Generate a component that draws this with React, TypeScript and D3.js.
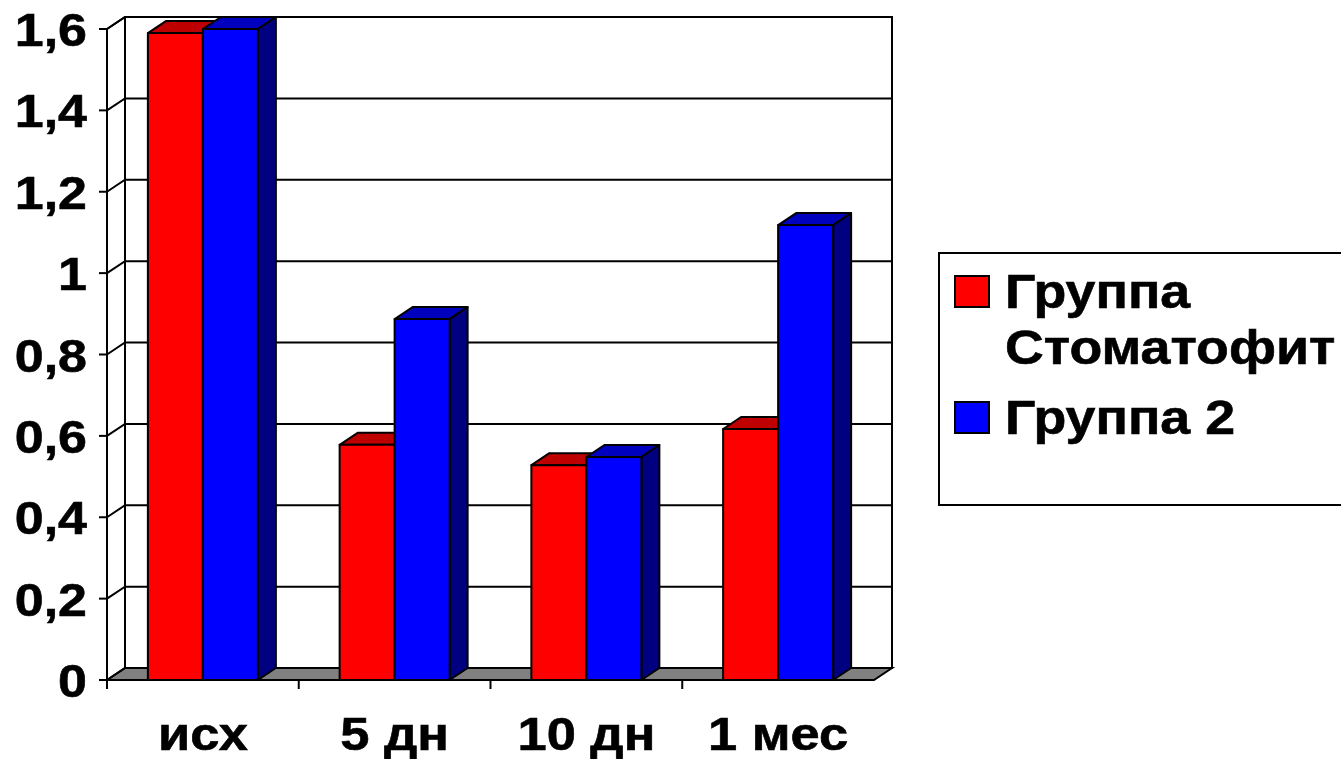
import React from "react";
import * as d3 from "d3";

const categories = ["исх", "5 дн", "10 дн", "1 мес"];
const groupOne = [1.59, 0.578, 0.528, 0.617];
const groupTwo = [1.6, 0.887, 0.548, 1.118];
const yTicks = [0, 0.2, 0.4, 0.6, 0.8, 1, 1.2, 1.4, 1.6];
const seriesColors = [
  { front: "#ff0000", top: "#bf0000", side: "#800000" },
  { front: "#0000ff", top: "#0000bf", side: "#000080" },
];

const X0 = 107, X1 = 874, Y0 = 680, Y1 = 29, DX = 18, DY = -12;
const x = d3.scaleBand<string>().domain(categories).range([X0, X1]);
const y = d3.scaleLinear().domain([0, 1.6]).range([Y0, Y1]);
const fmt = (v: number) => String(v).replace(".", ",");
const poly = (pts: [number, number][]) => {
  const p = d3.path();
  pts.forEach(([a, b], i) => (i ? p.lineTo(a, b) : p.moveTo(a, b)));
  p.closePath();
  return p.toString();
};
const SW = 2;

function Label({ px, py, anchor, size, sx, children }: any) {
  return (
    <text
      transform={`translate(${px},${py}) scale(${sx},1)`}
      textAnchor={anchor}
      fontFamily="'Liberation Sans', Arial, sans-serif"
      fontWeight="bold"
      fontSize={size}
      fill="#000"
      stroke="#000"
      strokeWidth={0.6}
    >
      {children}
    </text>
  );
}

export default function App() {
  const groupW = 110;
  const barW = groupW / 2;
  const pad = (x.bandwidth() - groupW) / 2;
  return (
    <svg
      width={1341}
      height={759}
      style={{ position: "fixed", left: 0, top: 0, background: "#fff" }}
    >
      <path
        d={poly([[X0, Y0], [X0 + DX, Y0 + DY], [X1 + DX, Y0 + DY], [X1, Y0]])}
        fill="#808080"
        stroke="#000"
        strokeWidth={SW}
      />
      <path
        d={poly([[X0 + DX, Y1 + DY], [X1 + DX, Y1 + DY], [X1 + DX, Y0 + DY], [X0 + DX, Y0 + DY]])}
        fill="#fff"
        stroke="#000"
        strokeWidth={SW}
      />
      {yTicks.map((t) => (
        <path
          key={t}
          d={`M${X0},${y(t)}L${X0 + DX},${y(t) + DY}L${X1 + DX},${y(t) + DY}`}
          fill="none"
          stroke="#000"
          strokeWidth={SW}
        />
      ))}
      <line x1={X0} x2={X0} y1={Y1} y2={Y0 + 9} stroke="#000" strokeWidth={SW} />
      <line x1={X0} x2={X0 + DX} y1={Y1} y2={Y1 + DY} stroke="#000" strokeWidth={SW} />
      <line x1={X0} x2={X1} y1={Y0} y2={Y0} stroke="#000" strokeWidth={SW} />
      {yTicks.map((t) => (
        <line key={t} x1={X0 - 8} x2={X0} y1={y(t)} y2={y(t)} stroke="#000" strokeWidth={SW} />
      ))}
      {categories.slice(1).map((c) => (
        <line key={c} x1={x(c)} x2={x(c)} y1={Y0} y2={Y0 + 9} stroke="#000" strokeWidth={SW} />
      ))}
      {categories.map((c, i) =>
        [groupOne[i], groupTwo[i]].map((v, s) => {
          const l = (x(c) as number) + pad + s * barW;
          const r = l + barW;
          const t = y(v);
          const col = seriesColors[s];
          return (
            <g key={c + s} stroke="#000" strokeWidth={SW} strokeLinejoin="round">
              <path d={poly([[l, t], [l + DX, t + DY], [r + DX, t + DY], [r, t]])} fill={col.top} />
              <path d={poly([[r, t], [r + DX, t + DY], [r + DX, Y0 + DY], [r, Y0]])} fill={col.side} />
              <rect x={l} y={t} width={barW} height={Y0 - t} fill={col.front} />
            </g>
          );
        })
      )}
      {yTicks.map((t) => (
        <Label key={t} px={87} py={y(t) + 17} anchor="end" size={46} sx={1.13}>
          {fmt(t)}
        </Label>
      ))}
      {categories.map((c) => (
        <Label key={c} px={(x(c) as number) + x.bandwidth() / 2} py={750} anchor="middle" size={46} sx={1.14}>
          {c}
        </Label>
      ))}
      <rect x={939} y={253} width={410} height={252} fill="#fff" stroke="#000" strokeWidth={SW} />
      <rect x={955} y={276} width={34} height={31} fill={seriesColors[0].front} stroke="#000" strokeWidth={SW} />
      <rect x={955} y={402} width={34} height={31} fill={seriesColors[1].front} stroke="#000" strokeWidth={SW} />
      <Label px={1005} py={308} anchor="start" size={48} sx={1.12}>Группа</Label>
      <Label px={1005} py={364} anchor="start" size={48} sx={1.12}>Стоматофит</Label>
      <Label px={1005} py={434} anchor="start" size={48} sx={1.12}>Группа 2</Label>
    </svg>
  );
}
